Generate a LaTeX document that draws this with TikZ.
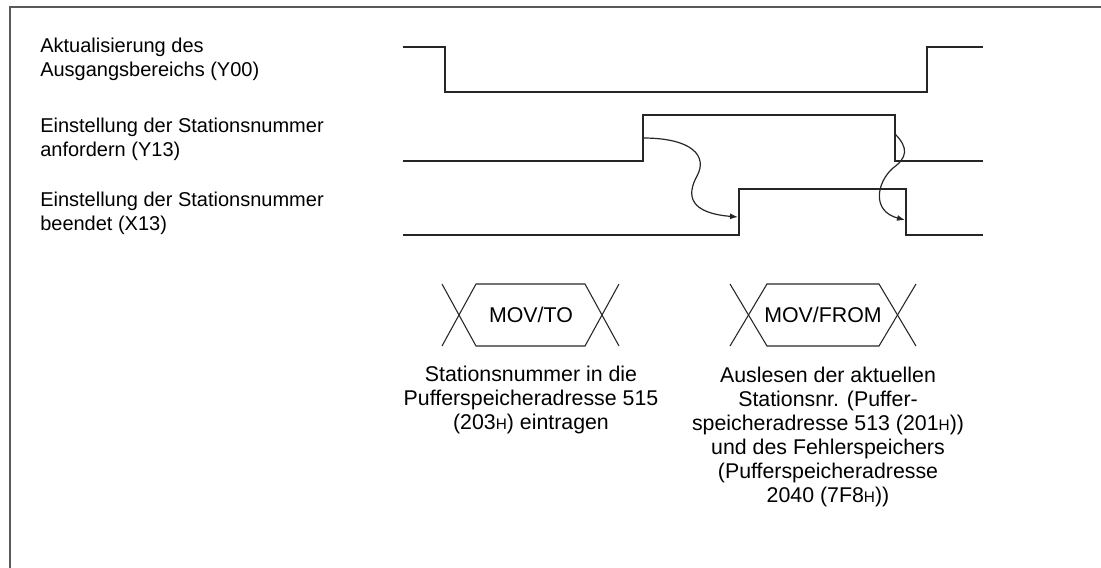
\documentclass[tikz,border=0pt]{standalone}
\usepackage{fontspec}
\setmainfont{Liberation Sans}
\usetikzlibrary{arrows.meta}
\colorlet{frame}{black!65}
\colorlet{sig}{black!85}
\newcommand{\hsub}{{\fontsize{11.5}{11.5}\selectfont H}}

\begin{document}
\begin{tikzpicture}[x=0.75pt,y=-0.75pt,
  signal/.style={line width=1.1pt, draw=sig},
  label/.style={anchor=west, align=left, inner sep=0pt, font=\fontsize{15}{18}\selectfont},
  note/.style={align=center, inner sep=0pt, font=\fontsize{16}{18}\selectfont},
  cause/.style={line width=0.9pt, draw=sig, -{Latex[length=6pt,width=4.5pt]}}]
\useasboundingbox (0,0) rectangle (1101,568);
\draw[frame, line width=0.8pt] (10,568) -- (10,7) -- (1101,7);

% signal names
\node[label] (ly00) at (40,59) {Aktualisierung des\\Ausgangsbereichs (Y00)};
\node[label] (ly13) at (40,139) {Einstellung der Stationsnummer\\anfordern (Y13)};
\node[label] (lx13) at (40,213) {Einstellung der Stationsnummer\\beendet (X13)};

% timing lines
\draw[signal] (403,47) -- (445,47) -- (445,92) -- (927,92) -- (927,47) -- (983,47);
\draw[signal] (403,161) -- (643,161) -- (643,115) -- (895,115) -- (895,161) -- (983,161);
\draw[signal] (403,235) -- (739,235) -- (739,189) -- (906,189) -- (906,235) -- (983,235);

\coordinate (y13on) at (643,138);
\coordinate (x13on) at (738,217);
\coordinate (y13off) at (895,134);
\coordinate (x13off) at (905,220);
\draw[cause] (y13on) .. controls (692,138) and (708,156) .. (697,176)
  .. controls (686,196) and (690,213) .. (x13on);
\draw[cause] (y13off) .. controls (909,148) and (907,158) .. (893,168)
  .. controls (877,182) and (871,211) .. (x13off);

% MOV/TO
\begin{scope}
\draw[signal, line width=0.8pt] (442,284) -- (476,346) -- (585,346) -- (619,284);
\draw[signal, line width=0.8pt] (442,346) -- (476,284) -- (585,284) -- (619,346);
\node[note] (movto) at (531,315) {MOV/TO};
\node[note] (noteto) at (531,400) {Stationsnummer in die\\Pufferspeicheradresse 515\\(203\hsub) eintragen};
\end{scope}

% MOV/FROM
\begin{scope}
\draw[signal, line width=0.8pt] (730,284) -- (767,346) -- (879,346) -- (916,284);
\draw[signal, line width=0.8pt] (730,346) -- (767,284) -- (879,284) -- (916,346);
\node[note] (movfrom) at (823,315) {MOV/FROM};
\node[note] (notefrom) at (828,437) {Auslesen der aktuellen\\Stationsnr. (Puffer-\\speicheradresse 513 (201\hsub))\\und des Fehlerspeichers\\(Pufferspeicheradresse\\2040 (7F8\hsub))};
\end{scope}

\end{tikzpicture}
\end{document}
